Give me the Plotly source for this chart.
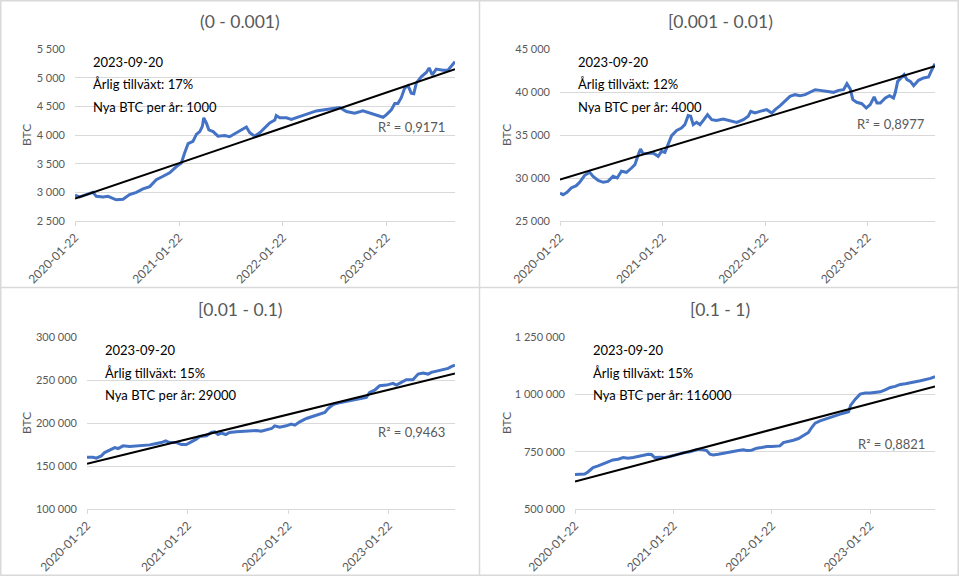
import numpy as np
import pandas as pd
import plotly.graph_objects as go

# Data (day offset from 2020-01-22, BTC held)
START_DATE = "2020-01-22"
END_DATE = "2023-09-20"
TICK_DATES = ["2020-01-22", "2021-01-22", "2022-01-22", "2023-01-22"]

titles = ["(0 - 0.001)", "[0.001 - 0.01)", "[0.01 - 0.1)", "[0.1 - 1)"]
snapshot = "2023-09-20"
growth = ["17%", "12%", "15%", "15%"]
new_btc = ["1000", "4000", "29000", "116000"]
r_squared = ["0,9171", "0,8977", "0,9463", "0,8821"]

p1_days = [0, 16, 40, 63, 75, 99, 116, 145, 169, 192, 216, 239, 263, 286, 310, 333,
           357, 374, 386, 398, 415, 427, 439, 448, 453, 462, 471, 486, 503, 527, 544,
           568, 591, 603, 615, 632, 650, 667, 685, 703, 708, 720, 744, 761, 779, 802,
           826, 849, 878, 908, 931, 955, 984, 1013, 1037, 1060, 1084, 1095, 1113, 1125,
           1136, 1148, 1160, 1172, 1183, 1192, 1201, 1219, 1236, 1246, 1257, 1271,
           1295, 1312, 1324, 1337]
p1_btc = [2950, 2920, 2960, 3000, 2930, 2920, 2930, 2870, 2880, 2960, 3000, 3060, 3100,
          3220, 3280, 3340, 3450, 3510, 3690, 3850, 3890, 4010, 4060, 4150, 4300, 4210,
          4090, 4060, 3980, 3990, 3970, 4040, 4100, 4140, 4040, 3980, 4040, 4120, 4210,
          4260, 4340, 4300, 4300, 4270, 4300, 4350, 4380, 4420, 4440, 4460, 4480, 4410,
          4380, 4420, 4380, 4350, 4310, 4350, 4440, 4550, 4550, 4650, 4820, 4860, 4730,
          4720, 4910, 5020, 5090, 5170, 5050, 5150, 5130, 5130, 5200, 5280]

p2_days = [0, 11, 25, 40, 58, 70, 88, 106, 118, 136, 154, 171, 189, 204, 219, 237, 255,
           267, 279, 287, 296, 314, 332, 350, 362, 374, 386, 398, 416, 433, 445, 457,
           466, 475, 487, 499, 513, 526, 541, 558, 582, 606, 630, 654, 671, 680, 695,
           713, 737, 755, 767, 785, 802, 820, 838, 856, 874, 892, 910, 927, 951, 975,
           993, 1011, 1023, 1035, 1044, 1058, 1076, 1092, 1106, 1120, 1130, 1142, 1160,
           1175, 1189, 1195, 1204, 1216, 1227, 1237, 1249, 1261, 1278, 1296, 1314, 1323,
           1337]
p2_btc = [28250, 28060, 28330, 28840, 29110, 29500, 30310, 30660, 30190, 29730, 29500,
          29610, 30190, 30000, 30780, 30660, 31160, 31550, 32710, 33370, 32830, 32830,
          32910, 32520, 33100, 32980, 34070, 34920, 35540, 35810, 36200, 37250, 37170,
          36200, 36470, 36200, 36780, 37360, 36780, 36700, 36860, 36700, 36470, 36780,
          37170, 37750, 37560, 37750, 37950, 37560, 37950, 38410, 38910, 39500, 39690,
          39570, 39690, 39960, 40270, 40190, 40080, 39960, 40190, 40270, 40970, 40350,
          39110, 38800, 38640, 38140, 38530, 39420, 38720, 38720, 39300, 39570, 39300,
          39880, 41240, 41630, 42020, 41430, 41240, 40740, 41360, 41630, 41740, 42400,
          43290]

p3_days = [0, 22, 34, 52, 64, 82, 101, 113, 131, 155, 179, 203, 228, 252, 270, 286, 300,
           325, 343, 361, 379, 397, 409, 434, 452, 464, 476, 488, 504, 518, 543, 567,
           591, 615, 633, 651, 671, 682, 700, 724, 742, 755, 773, 797, 821, 845, 864,
           876, 894, 912, 936, 954, 979, 1003, 1015, 1027, 1045, 1063, 1088, 1112, 1124,
           1142, 1160, 1184, 1203, 1221, 1239, 1251, 1275, 1293, 1312, 1325, 1337]
p3_btc = [160190, 160190, 159030, 161750, 165630, 168740, 171460, 170290, 173400,
          172620, 173010, 173400, 174560, 176120, 177280, 179220, 177280, 177280,
          174950, 174950, 178060, 181170, 184270, 185050, 188930, 189710, 186600,
          188160, 186600, 188930, 189710, 190100, 190870, 191260, 190490, 192040,
          193590, 196700, 195150, 196700, 198640, 197480, 201360, 205240, 207570,
          210290, 212230, 216890, 221550, 223110, 224660, 225830, 226990, 229320,
          229710, 235530, 238250, 243300, 244080, 246020, 244080, 247180, 250290,
          250290, 256890, 258060, 256890, 258840, 260780, 261940, 263500, 265830,
          267380]

p4_days = [0, 17, 36, 48, 67, 86, 104, 123, 141, 160, 179, 197, 216, 234, 253, 272, 284,
           296, 315, 334, 352, 371, 389, 408, 427, 445, 458, 476, 489, 501, 513, 532,
           551, 569, 588, 607, 625, 637, 656, 675, 693, 712, 731, 749, 761, 774, 793,
           811, 830, 848, 867, 879, 892, 910, 929, 948, 966, 985, 1003, 1016, 1024,
           1041, 1059, 1078, 1096, 1115, 1134, 1152, 1171, 1189, 1208, 1227, 1245,
           1264, 1283, 1301, 1320, 1337]
p4_btc = [650000, 650000, 652900, 661650, 680600, 687860, 698050, 705340, 714080,
          716990, 724270, 721360, 724270, 728640, 731550, 738830, 737370, 724270,
          725730, 724270, 728640, 735920, 740290, 746110, 749030, 756310, 760680,
          757770, 754850, 738830, 735920, 738830, 743200, 749030, 751940, 754850,
          757770, 754850, 756310, 765050, 767960, 772330, 772330, 773790, 775250,
          789810, 794180, 800000, 807280, 821850, 833500, 855340, 874270, 884470,
          891750, 901940, 906310, 913590, 919420, 923790, 952910, 979130, 1000970,
          1005340, 1005340, 1006800, 1011170, 1019910, 1030100, 1034470, 1043210,
          1046120, 1051950, 1054860, 1059230, 1063600, 1069420, 1076700]

y_ranges = [[2500, 5500], [25000, 45000], [100000, 300000], [500000, 1250000]]
y_dticks = [500, 5000, 50000, 250000]

W, H = 959, 576
FONT = "Lato"
GRAY = "#595959"
GRID = "#D9D9D9"
BLUE = "#4472C4"

# pixel boxes of the plot areas (left, right, top, bottom) and panel origins
plot_boxes = [(75, 455, 49, 221), (560, 935, 49, 221),
              (87, 455, 337, 509), (575, 935, 337, 509)]
panel_origins = [(0, 0), (480, 0), (0, 287), (480, 287)]


def px(x):
    return x / W


def py(y):
    return 1 - y / H


def trendline(days, values):
    """Linear least squares fit, each sample weighted by the time span it covers."""
    d = np.asarray(days, dtype=float)
    span = np.gradient(d)
    coef = np.polyfit(d, values, 1, w=np.sqrt(span))
    return np.polyval(coef, d)


series = [(p1_days, p1_btc), (p2_days, p2_btc), (p3_days, p3_btc), (p4_days, p4_btc)]

fig = go.Figure()
annotations = []

for i, (days, btc) in enumerate(series):
    n = i + 1
    xa = "x" if n == 1 else f"x{n}"
    ya = "y" if n == 1 else f"y{n}"
    dates = pd.Timestamp(START_DATE) + pd.to_timedelta(days, unit="D")

    fig.add_trace(go.Scatter(x=dates, y=btc, mode="lines", xaxis=xa, yaxis=ya,
                             line=dict(color=BLUE, width=3), showlegend=False))
    fig.add_trace(go.Scatter(x=dates, y=trendline(days, btc), mode="lines", xaxis=xa,
                             yaxis=ya, line=dict(color="black", width=2), showlegend=False))

    left, right, top, bottom = plot_boxes[i]
    ox, oy = panel_origins[i]
    xkey = "xaxis" if n == 1 else f"xaxis{n}"
    ykey = "yaxis" if n == 1 else f"yaxis{n}"
    fig.update_layout({
        xkey: dict(domain=[px(left), px(right)], anchor=ya, type="date", automargin=False,
                   range=[START_DATE, END_DATE], tickvals=TICK_DATES, ticktext=TICK_DATES,
                   tickangle=-45, showgrid=False, showline=True, linecolor=GRID,
                   linewidth=1, ticks="outside", ticklen=4, tickcolor=GRID,
                   tickfont=dict(family=FONT, size=12, color=GRAY)),
        ykey: dict(domain=[py(bottom), py(top)], anchor=xa, range=y_ranges[i],
                   automargin=False, dtick=y_dticks[i], tickformat=",d", showgrid=True,
                   gridcolor=GRID, gridwidth=1, zeroline=False, showline=False,
                   ticklabelstandoff=9, tickfont=dict(family=FONT, size=11, color=GRAY)),
    })

    # panel title
    annotations.append(dict(text=titles[i], x=px(ox + 240), y=py(oy + 22), xref="paper",
                            yref="paper", showarrow=False, xanchor="center", yanchor="middle",
                            font=dict(family=FONT, size=17.5, color=GRAY)))
    # y axis title
    annotations.append(dict(text="BTC", x=px(ox + 26), y=py((top + bottom) / 2), xref="paper",
                            yref="paper", showarrow=False, textangle=-90,
                            xanchor="center", yanchor="middle",
                            font=dict(family=FONT, size=12, color=GRAY)))
    # info box
    info = [snapshot, f"Årlig tillväxt: {growth[i]}", f"Nya BTC per år: {new_btc[i]}"]
    for k, line in enumerate(info):
        annotations.append(dict(text=line, x=px(left + 16), y=py(top + 13 + 22.5 * k),
                                xref="paper", yref="paper", showarrow=False,
                                xanchor="left", yanchor="middle",
                                font=dict(family=FONT, size=13, color="black")))
    # R squared label
    r_y = [127, 124, 432, 444][i]
    annotations.append(dict(text=f"R² = {r_squared[i]}", x=px(right - 8), y=py(r_y),
                            xref="paper", yref="paper", showarrow=False,
                            xanchor="right", yanchor="middle",
                            font=dict(family=FONT, size=13, color=GRAY)))

# panel borders
shapes = [
    dict(type="rect", xref="paper", yref="paper", x0=px(0.75), x1=px(958.25),
         y0=py(575.25), y1=py(0.75), line=dict(color=GRID, width=1.5)),
    dict(type="line", xref="paper", yref="paper", x0=px(479.5), x1=px(479.5),
         y0=0, y1=1, line=dict(color=GRID, width=1.5)),
    dict(type="line", xref="paper", yref="paper", x0=0, x1=1,
         y0=py(287.5), y1=py(287.5), line=dict(color=GRID, width=1.5)),
]

fig.update_layout(
    width=W, height=H,
    margin=dict(l=0, r=0, t=0, b=0, autoexpand=False),
    paper_bgcolor="white", plot_bgcolor="white",
    separators=", ",
    font=dict(family=FONT, color=GRAY),
    annotations=annotations,
    shapes=shapes,
)

# drop the browser's default page margin so the figure sits at the window corner
fig.write_html("out.html", config={"displayModeBar": False},
               post_script="document.body.style.margin = '0';")
